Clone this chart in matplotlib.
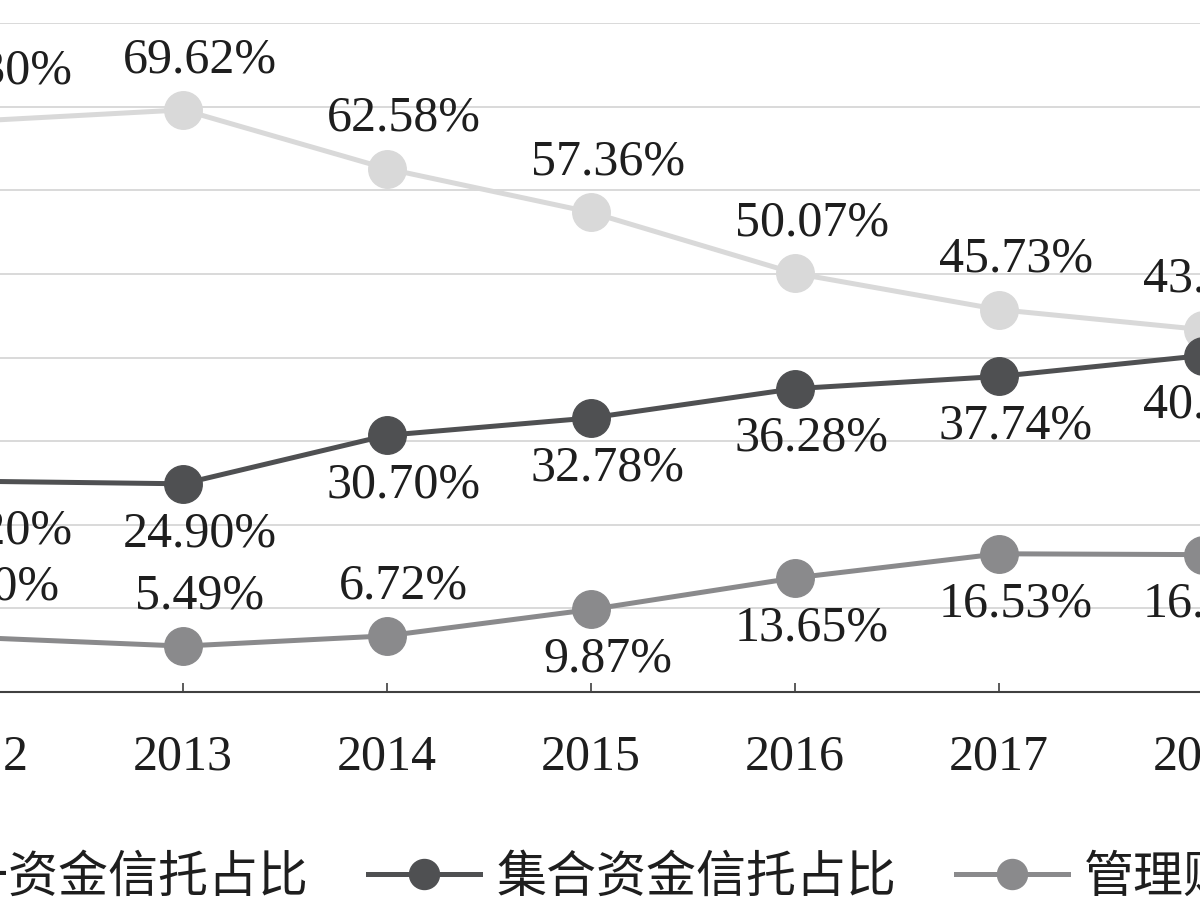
import matplotlib
matplotlib.use("Agg")
import matplotlib.pyplot as plt

# shares of trust assets by funding source, %
years = [2012, 2013, 2014, 2015, 2016, 2017, 2018]
single = [68.30, 69.62, 62.58, 57.36, 50.07, 45.73, 43.33]
collective = [25.20, 24.90, 30.70, 32.78, 36.28, 37.74, 40.24]
managed = [6.50, 5.49, 6.72, 9.87, 13.65, 16.53, 16.43]
names = ["单一资金信托占比", "集合资金信托占比", "管理财产信托占比"]

# label side for each point: +1 above, -1 below
single_side = [1, 1, 1, 1, 1, 1, 1]
collective_side = [-1, -1, -1, -1, -1, -1, -1]
managed_side = [1, 1, 1, -1, -1, -1, -1]

plt.rcParams["font.family"] = ["Liberation Serif", "Noto Sans CJK SC"]

fig = plt.figure(figsize=(12, 9), dpi=100)
# axes wider than the canvas: the picture is a crop of a bigger chart
ax = fig.add_axes([-0.1025, 0.2311, 1.19, 0.7433])
ax.set_xlim(2011.5, 2018.5)
ax.set_ylim(0, 80)

series = [
    (single, single_side, "#d9d9d9"),
    (collective, collective_side, "#4f5052"),
    (managed, managed_side, "#8a8a8c"),
]

handles = []
for vals, sides, col in series:
    ln, = ax.plot(years, vals, color=col, lw=3.6, marker="o", ms=27,
                  mfc=col, mec=col, zorder=3, clip_on=False)
    handles.append(ln)
    for x, v, s in zip(years, vals, sides):
        ax.annotate(f"{v:.2f}%", (x, v), xytext=(12, 36 * s),
                    textcoords="offset points", ha="center", va="center",
                    fontsize=36, color="#1e1e1e", annotation_clip=False,
                    zorder=4)

ax.set_yticks(range(10, 81, 10))
ax.yaxis.grid(True, color="#d9d9d9", lw=1.4)
ax.set_axisbelow(True)
ax.tick_params(axis="y", left=False, labelleft=False)

ax.set_xticks(years)
ax.set_xticklabels([str(y) for y in years])
ax.tick_params(axis="x", direction="in", length=6.5, width=1.2, color="#404040",
               labelsize=36, labelcolor="#1e1e1e", pad=30)

for side in ["top", "left", "right"]:
    ax.spines[side].set_visible(False)
ax.spines["bottom"].set_color("#404040")
ax.spines["bottom"].set_linewidth(1.5)

fig.legend(handles, names, loc="center left", bbox_to_anchor=(-0.1833, 0.025),
           ncol=3, frameon=False, prop={"family": "Noto Sans CJK SC", "size": 36},
           handlelength=2.24, handletextpad=0.32, columnspacing=1.2,
           borderpad=0, borderaxespad=0, markerscale=0.8, labelcolor="#1e1e1e")

fig.savefig("out.png", dpi=100)
